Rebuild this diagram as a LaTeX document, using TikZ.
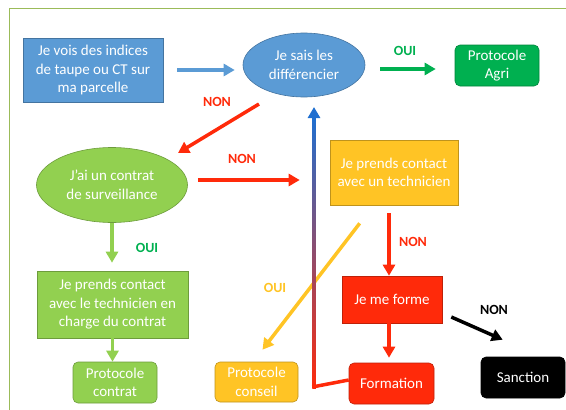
\documentclass[tikz,border=0pt]{standalone}
\usepackage{fontspec}
\setmainfont{Carlito}
\usetikzlibrary{shapes.geometric,arrows.meta}

\definecolor{bleu}{HTML}{5B9BD5}
\definecolor{bleuF}{HTML}{1F6FD0}
\definecolor{vert}{HTML}{00B050}
\definecolor{vertC}{HTML}{92D050}
\definecolor{jaune}{HTML}{FFC425}
\definecolor{rouge}{HTML}{FF2A0A}
\definecolor{cadre}{HTML}{9BBB59}

\tikzset{
  boite/.style={fill=#1, draw=#1!75!black, line width=0.6pt, text=white,
    align=center, inner sep=2pt, font=\fontsize{15}{18.5}\selectfont},
  bulle/.style={boite=#1, ellipse, inner sep=0pt},
  fleche/.style={line width=3.5pt, -{Triangle[length=11pt,width=12pt]}},
  etiq/.style={font=\fontsize{14}{16}\selectfont\bfseries}
}

\begin{document}
\begin{tikzpicture}[x=1pt,y=-1pt]
  \useasboundingbox (0,0) rectangle (566,410);
  % frame
  \draw[cadre, line width=1pt] (566,8) -- (9,8) -- (9,410);

  % nodes
  \node[boite=bleu, minimum width=140pt, minimum height=64pt] (b1) at (93,70)
    {Je vois des indices\\de taupe ou CT sur\\ma parcelle};
  \node[bulle=bleu, minimum width=122pt, minimum height=64pt] (e1) at (304,65)
    {Je sais les\\différencier};
  \node[boite=vert, rounded corners=5pt, minimum width=84pt, minimum height=41pt] (agri) at (497,65.5)
    {Protocole\\Agri};
  \node[bulle=vertC, minimum width=151pt, minimum height=75pt] (e2) at (112,185)
    {J’ai un contrat\\de surveillance};
  \node[boite=jaune, minimum width=128pt, minimum height=65pt] (yel) at (394,172.5)
    {Je prends contact\\avec un technicien};
  \node[boite=vertC, minimum width=151pt, minimum height=67pt] (g2) at (112.5,304.5)
    {Je prends contact\\avec le technicien en\\charge du contrat};
  \node[boite=vertC, rounded corners=5pt, minimum width=84pt, minimum height=41pt] (pcontrat) at (115,382.5)
    {Protocole\\contrat};
  \node[boite=jaune, rounded corners=5pt, minimum width=83pt, minimum height=40pt] (pconseil) at (256.5,382)
    {Protocole\\conseil};
  \node[boite=rouge, minimum width=100pt, minimum height=47pt] (forme) at (392,299.5)
    {Je me forme};
  \node[boite=rouge, rounded corners=5pt, minimum width=85pt, minimum height=41pt] (formation) at (391.5,383.5)
    {Formation};
  \node[boite=black, rounded corners=5pt, minimum width=84pt, minimum height=41pt] (sanction) at (523,377.5)
    {Sanction};

  % labels
  \node[etiq, text=vert] (oui1) at (405,51) {OUI};
  \node[etiq, text=rouge] (non1) at (217,102) {NON};
  \node[etiq, text=rouge] (non2) at (242,159) {NON};
  \node[etiq, text=vert] (oui2) at (147,248) {OUI};
  \node[etiq, text=jaune] (oui3) at (275,288) {OUI};
  \node[etiq, text=rouge] (non3) at (413,242) {NON};
  \node[etiq] (non4) at (494,310) {NON};

  % arrows
  \draw[fleche, bleu, shorten <=14pt, shorten >=8pt] (b1.east) -- (b1.east -| e1.west);
  \draw[fleche, vert, shorten <=15pt, shorten >=19pt] ([yshift=-4pt]e1.east) -- ([yshift=-4pt]e1.east -| agri.west);
  \draw[fleche, rouge] ([xshift=-45pt,yshift=-39pt]e1.center) -- ([xshift=66pt,yshift=32pt]e2.center);
  \draw[fleche, rouge, shorten <=10pt, shorten >=30pt] ([yshift=5pt]e2.east) -- ([yshift=5pt]e2.east -| yel.west);
  \draw[fleche, vertC, shorten >=8pt] (e2.south) -- (e2.south |- g2.north);
  \draw[fleche, vertC] (g2.south) -- (g2.south |- pcontrat.north);
  \draw[fleche, jaune] ([xshift=30pt,yshift=-18pt]yel.south west) -- ([xshift=6pt,yshift=12pt]pconseil.north);
  \draw[fleche, rouge, shorten <=8pt] ([xshift=-5pt]yel.south) -- ([xshift=-5pt]yel.south |- forme.north);
  \draw[fleche, rouge, shorten >=5pt] ([xshift=-3pt]forme.south) -- ([xshift=-3pt]forme.south |- formation.north);
  \draw[fleche, black] ([xshift=9pt,yshift=-17.5pt]forme.east) -- ([xshift=22pt,yshift=17pt]sanction.north west);

  % way back from the training
  \coordinate (coude) at (314,387);
  \coordinate (retour) at (314,107);
  \shade[top color=bleuF, middle color=violet!70!bleuF, bottom color=rouge]
    ([xshift=-1.75pt,yshift=-10pt]retour) rectangle ([xshift=1.75pt,yshift=-1.75pt]coude);
  \draw[rouge, line width=3.5pt] ([yshift=3.5pt]formation.west) -- ([xshift=-1.75pt]coude);
  \draw[fleche, bleuF] ([yshift=-14pt]retour) -- (retour);
\end{tikzpicture}
\end{document}
